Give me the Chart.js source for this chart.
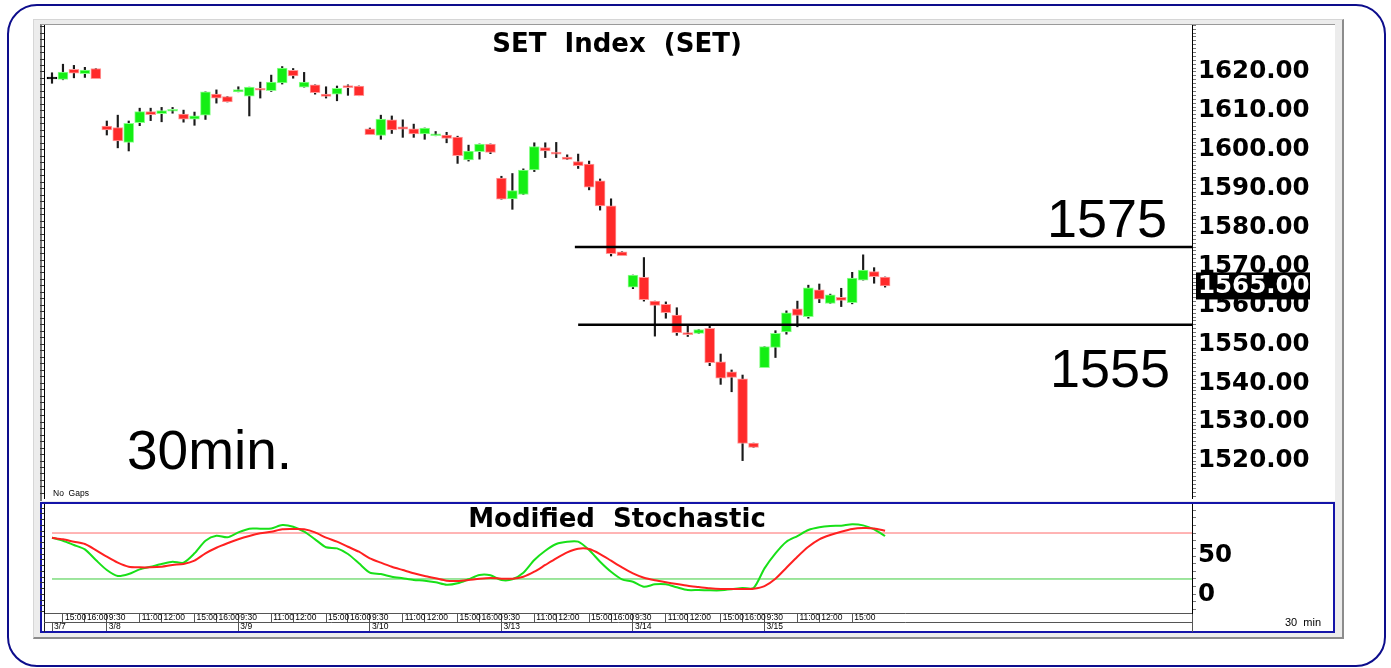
<!DOCTYPE html>
<html>
<head>
<meta charset="utf-8">
<script src="https://cdn.jsdelivr.net/npm/chart.js@4.4.1/dist/chart.umd.min.js"></script>
<style>
html,body{margin:0;padding:0;background:#fff;}
body{width:1391px;height:668px;position:relative;overflow:hidden;font-family:"Liberation Sans",Arial,sans-serif;}
.abs{position:absolute;}
#outer{left:7px;top:4px;width:1375px;height:659px;border:2px solid #0d0d8c;border-radius:30px;}
#frame{left:33px;top:19px;width:1308px;height:617px;background:#ececec;border-top:1px solid #d6d6d6;border-left:1px solid #d6d6d6;border-right:2px solid #8c8c8c;border-bottom:2px solid #8c8c8c;}
#mainPanel{left:40px;top:24px;width:1293px;height:476px;background:#fff;border-left:2px solid #7a7a7a;border-top:1px solid #9a9a9a;}
#stochPanel{left:40px;top:502px;width:1291px;height:127px;background:#fff;border:2px solid #1414a8;}
canvas{position:absolute;left:0;}
#main{top:0;}
#stoch{top:500px;}
.t{position:absolute;white-space:pre;line-height:1;color:#000;}
.title{font-family:"DejaVu Sans",sans-serif;font-weight:bold;font-size:26px;left:0;width:1234px;text-align:center;}
.big{font-family:"Liberation Sans",Arial,sans-serif;font-size:54px;}
.vline{position:absolute;width:1px;background:#555;}
</style>
</head>
<body>
<div id="outer" class="abs"></div>
<div id="frame" class="abs"></div>
<div id="mainPanel" class="abs"></div>
<div id="stochPanel" class="abs"></div>
<div class="vline" style="left:1192px;top:613px;height:19px;"></div>
<div class="vline" style="left:44px;top:613px;height:19px;background:#222;"></div>
<canvas id="main" width="1391" height="500"></canvas>
<canvas id="stoch" width="1391" height="135"></canvas>
<div class="t title" style="top:30px;">SET  Index  (SET)</div>
<div class="t title" style="top:505px;">Modified  Stochastic</div>
<div class="t big" style="left:1047px;top:191px;">1575</div>
<div class="t big" style="left:1050px;top:341px;">1555</div>
<div class="t big" style="left:127px;top:423px;font-size:55px;">30min.</div>
<div class="t" style="left:53px;top:489px;font-size:8.5px;">No  Gaps</div>
<div class="t" style="left:1285px;top:617px;font-size:11px;">30  min</div>
<script>
// ---------- data ----------
const dayLabels = ['3/7','3/8','3/9','3/10','3/13','3/14','3/15'];
const sessionTimes = ['9:30','10:00','10:30','11:00','11:30','12:00','12:30','14:30','15:00','15:30','16:00','16:30'];
const firstSessionStart = '14:30';
const shownTimes = ['9:30','11:00','12:00','15:00','16:00'];

const opens  = [1618.2,1618.1,1620.7,1619.6,1620.9,
  1606.1,1605.7,1601.9,1607.0,1609.8,1609.3,1609.9,1609.2,1607.9,1608.9,1614.3,1613.7,
  1614.9,1613.8,1615.6,1615.2,1617.2,1620.4,1616.1,1616.7,1614.3,1614.3,1616.3,1616.4,
  1605.4,1603.7,1607.7,1605.9,1605.4,1604.1,1603.6,1603.8,1603.3,1597.4,1599.5,1601.5,
  1592.7,1587.4,1588.5,1594.8,1600.6,1599.4,1598.1,1597.0,1596.3,1592.0,1585.6,1573.8,
  1564.7,1567.2,1561.1,1560.3,1557.5,1552.8,1552.8,1554.1,1545.5,1542.9,1541.1,1524.6,
  1544.0,1549.2,1553.2,1559.1,1557.1,1564.0,1560.5,1562.1,1560.7,1566.5,1568.7,1567.3];
const highs  = [1619.8,1622.0,1621.7,1621.2,1620.9,
  1607.4,1608.9,1607.4,1610.7,1610.7,1610.9,1610.9,1610.2,1609.7,1614.9,1615.4,1613.7,
  1616.2,1616.1,1617.4,1619.2,1621.4,1620.9,1619.9,1616.7,1616.2,1616.4,1616.7,1616.4,
  1605.6,1608.9,1608.7,1607.7,1606.6,1605.6,1604.7,1604.5,1603.5,1601.2,1601.5,1601.5,
  1593.2,1593.9,1595.1,1601.8,1601.8,1601.9,1598.7,1598.9,1597.1,1592.5,1587.4,1573.8,
  1567.8,1572.3,1561.1,1560.9,1559.4,1554.7,1553.8,1555.1,1547.5,1543.4,1542.1,1524.6,
  1549.4,1553.5,1558.6,1561.1,1565.2,1565.5,1562.9,1564.4,1568.5,1573.0,1569.7,1567.3];
const lows   = [1617.1,1618.0,1618.5,1618.6,1618.3,
  1603.8,1600.5,1599.7,1606.2,1607.5,1607.2,1609.4,1607.1,1606.3,1607.8,1612.0,1612.3,
  1614.9,1608.7,1613.3,1615.0,1616.9,1618.4,1616.1,1614.3,1613.3,1612.6,1614.0,1613.9,
  1603.9,1602.7,1604.2,1603.2,1603.2,1602.7,1603.6,1601.8,1596.5,1597.1,1597.6,1599.0,
  1587.3,1584.7,1588.5,1594.4,1598.0,1598.0,1597.5,1595.2,1589.7,1584.5,1572.7,1572.8,
  1564.3,1561.1,1552.1,1556.7,1552.3,1552.0,1552.8,1544.5,1539.7,1537.8,1520.1,1523.5,
  1544.0,1546.6,1552.6,1554.5,1556.7,1560.7,1560.5,1559.7,1560.4,1566.5,1565.7,1564.7];
const closes = [1618.2,1620.0,1619.7,1620.5,1618.3,
  1605.1,1602.3,1606.8,1609.8,1609.0,1610.1,1610.4,1607.9,1608.7,1614.9,1613.3,1612.3,
  1615.5,1616.1,1615.3,1617.4,1621.0,1619.0,1617.4,1614.7,1613.7,1615.8,1616.0,1613.9,
  1603.9,1607.9,1605.1,1605.3,1604.1,1605.6,1603.9,1602.9,1598.5,1599.7,1601.5,1599.3,
  1587.3,1589.5,1594.8,1600.8,1599.7,1598.9,1597.5,1595.9,1590.4,1585.6,1573.3,1572.8,
  1567.8,1561.5,1560.0,1558.1,1553.0,1552.5,1553.8,1545.3,1541.3,1541.5,1524.5,1523.5,
  1549.4,1552.8,1558.1,1557.4,1564.5,1561.6,1562.7,1561.3,1567.0,1569.1,1567.4,1565.0];

const stochK = [73.9,70,64.4,58.7,44.8,31.7,23.9,26.5,32.6,36,39.6,42.6,41.3,53.5,70,76.5,74.4,80.9,85.7,85.7,
  86,90.5,88.3,81.7,71.8,61.4,60,52.6,40.5,28.2,26.5,23,20.9,18.7,17.8,15.7,12.5,14.4,19.6,25.2,
  24.8,18.7,19.6,28.2,44.8,56.9,65.7,68.7,68.7,57.8,42.6,29.5,19.6,16.4,9.9,13,13,9.1,5.6,5.6,
  5.2,5.2,6.5,8.2,8.2,33.9,53.5,68.7,76.1,83.9,87.5,89.2,89.6,91.4,90,84.9,76.1];
const stochD = [73.9,71.8,68.7,65.7,57.8,49.1,41.3,36,35.2,35.2,36,38.3,39.6,43.9,53.5,60.8,66.6,71.8,76.1,79.6,
  81.7,84.9,85.2,84.9,80.9,73.9,68.7,62.1,55.6,47,41.3,36,31.7,27.4,23.9,20.9,17.8,17.4,18.7,20.4,
  21.3,20.4,20.4,23,29.5,38.3,47,54.8,59.5,59.1,52.6,43.9,35.2,27.4,21.7,18.3,15.7,13.4,11.2,9.5,
  7.8,6.9,6.9,6.9,7.3,10.8,20.4,34.7,49.1,62.1,71.8,77.4,81.7,85.2,86.5,86,83];

const priceTickLabels = [1520,1530,1540,1550,1560,1570,1580,1590,1600,1610,1620];
const stochTickLabels = [0,50];
const priceLevels = [1575,1555];
const priceLevelFrom = [47.7,48.0];   // bar position where each level line starts
const stochLevels = [80,20];

// ---------- derived ----------
const bars = [];
dayLabels.forEach((d, di) => {
  const start = di === 0 ? sessionTimes.indexOf(firstSessionStart) : 0;
  for (let t = start; t < sessionTimes.length; t++) bars.push({date: d, time: sessionTimes[t], first: t === start});
});
const idx = bars.map((_, i) => i);
// a time label needs room for its cell: skip ones too close to the last bar
const timeTicks = idx.filter(i => shownTimes.includes(bars[i].time) && i < bars.length - 2);
const dateTicks = idx.filter(i => bars[i].first);

const X_MIN = -0.73, X_MAX = 104.0;
const P_MIN = 1510.49, P_MAX = 1632.08;
const S_MIN = -24.4, S_MAX = 117.9;

const fix = (w, h) => s => {
  if (w != null) s.width = w;
  if (h != null) s.height = h;
  s.paddingLeft = 0; s.paddingRight = 0; s.paddingTop = 0; s.paddingBottom = 0;
};
const range = (a, b, step) => { const r = []; for (let k = Math.ceil(a / step); k * step <= b; k++) r.push(k * step); return r; };

const bodyColor = idx.map(i => closes[i] === opens[i] ? '#000' : (closes[i] > opens[i] ? '#14ee14' : '#ff2a2a'));
const bodyBorder = idx.map(i => closes[i] === opens[i] ? '#000' : (closes[i] > opens[i] ? '#8cff8c' : '#ff9a9a'));

const labelFont = {family: 'DejaVu Sans', weight: 'bold', size: 24.5};
const common = {responsive: false, animation: false, events: [],
  plugins: {legend: {display: false}, tooltip: {enabled: false}}};

const lastBox = {
  id: 'lastBox',
  afterDraw(chart) {
    const s = chart.scales.y, ctx = chart.ctx;
    const v = closes[closes.length - 1];
    const y = s.getPixelForValue(v);
    ctx.save();
    ctx.fillStyle = '#000';
    ctx.fillRect(s.left + 4, y - 13.5, 114, 27);
    ctx.fillStyle = '#fff';
    ctx.font = 'bold 24.5px "DejaVu Sans"';
    ctx.textBaseline = 'middle';
    ctx.textAlign = 'left';
    ctx.fillText(v.toFixed(2), s.left + 6, y + 1);
    ctx.restore();
  }
};

new Chart(document.getElementById('main'), {
  type: 'bar',
  data: {datasets: [
    ...priceLevels.map((lv, k) => ({type: 'line', xAxisID: 'x', yAxisID: 'y',
      data: [{x: priceLevelFrom[k], y: lv}, {x: X_MAX, y: lv}],
      borderColor: '#000', borderWidth: 2.5, pointRadius: 0})),
    {type: 'bar', xAxisID: 'x', yAxisID: 'y',
      data: idx.map(i => ({x: i, y: [opens[i], closes[i]]})),
      backgroundColor: bodyColor, borderColor: bodyBorder, borderWidth: 1, borderSkipped: false,
      barThickness: 10, minBarLength: 2, grouped: false},
    {type: 'bar', xAxisID: 'x', yAxisID: 'y',
      data: idx.map(i => ({x: i, y: [lows[i], highs[i]]})),
      backgroundColor: '#1a1a1a', barThickness: 1.5, grouped: false}
  ]},
  options: {...common,
    layout: {padding: {left: 40, top: 25, right: 0, bottom: 2}},
    scales: {
      x: {type: 'linear', min: X_MIN, max: X_MAX, offset: false, display: false, grid: {offset: false}},
      yL: {type: 'linear', position: 'left', min: P_MIN, max: P_MAX,
        afterBuildTicks: s => { s.ticks = range(P_MIN, P_MAX, 5 / 3).map(v => ({value: v})); },
        ticks: {display: false}, grid: {drawOnChartArea: false, tickLength: 4, color: '#333'},
        border: {color: '#000'}, afterFit: fix(4, null)},
      y: {type: 'linear', position: 'right', min: P_MIN, max: P_MAX,
        afterBuildTicks: s => { s.ticks = range(P_MIN, P_MAX, 1).map(v => ({value: v})); },
        ticks: {autoSkip: false, padding: 2, color: '#000', font: labelFont,
          callback: v => priceTickLabels.includes(Math.round(v * 100) / 100) ? v.toFixed(2) : ''},
        grid: {drawOnChartArea: false, tickLength: 4, color: '#777'},
        border: {color: '#000'}, afterFit: fix(199, null)}
    }
  },
  plugins: [lastBox]
});

const xAxisBase = (ticksArr, labelFn, weight) => ({
  type: 'linear', position: 'bottom', min: X_MIN, max: X_MAX, weight, offset: false,
  afterBuildTicks: s => { s.ticks = ticksArr.map(v => ({value: v})); },
  ticks: {autoSkip: false, maxRotation: 0, minRotation: 0, align: 'start', labelOffset: 2, padding: -9.3,
    color: '#000', font: {family: 'Liberation Sans', size: 8.5}, callback: labelFn},
  grid: {drawOnChartArea: false, tickLength: 9, color: '#555'},
  border: {color: '#555'},
  afterFit: fix(null, 9)
});

new Chart(document.getElementById('stoch'), {
  type: 'line',
  data: {datasets: [
    {xAxisID: 'x', yAxisID: 'y', data: idx.map(i => ({x: i, y: stochD[i]})), borderColor: '#ff2020', borderWidth: 2, pointRadius: 0, tension: 0.25},
    {xAxisID: 'x', yAxisID: 'y', data: idx.map(i => ({x: i, y: stochK[i]})), borderColor: '#18e018', borderWidth: 2, pointRadius: 0, tension: 0.25},
    ...stochLevels.map((lv, k) => ({xAxisID: 'x', yAxisID: 'y', data: [{x: 0, y: lv}, {x: X_MAX, y: lv}],
      borderColor: k === 0 ? '#ff6a6a' : '#3ccc3c', borderWidth: 1, pointRadius: 0}))
  ]},
  options: {...common,
    layout: {padding: {left: 40, top: 4, right: 0, bottom: 4}},
    scales: {
      x: xAxisBase(timeTicks, v => bars[v] ? bars[v].time : '', 0),
      x2: xAxisBase(dateTicks, v => bars[v] ? bars[v].date : '', 1),
      yL: {type: 'linear', position: 'left', min: S_MIN, max: S_MAX,
        afterBuildTicks: s => { s.ticks = range(S_MIN, S_MAX, 7.5).map(v => ({value: v})); },
        ticks: {display: false}, grid: {drawOnChartArea: false, tickLength: 4, color: '#333'},
        border: {color: '#000'}, afterFit: fix(4, null)},
      y: {type: 'linear', position: 'right', min: S_MIN, max: S_MAX,
        afterBuildTicks: s => { s.ticks = range(S_MIN, S_MAX, 10).map(v => ({value: v})); },
        ticks: {autoSkip: false, padding: 2, color: '#000', font: labelFont,
          callback: v => stochTickLabels.includes(Math.round(v)) ? String(Math.round(v)) : ''},
        grid: {drawOnChartArea: false, tickLength: 4, color: '#777'},
        border: {color: '#000'}, afterFit: fix(199, null)}
    }
  }
});
</script>
</body>
</html>
